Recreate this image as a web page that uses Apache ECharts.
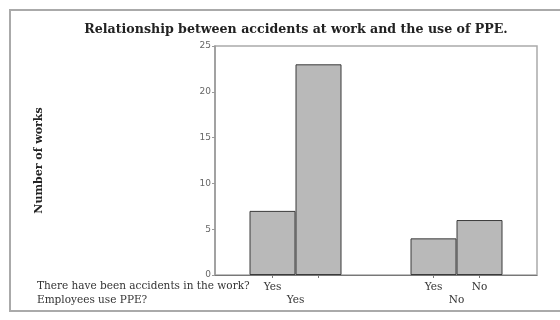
<!DOCTYPE html>
<html>
<head>
<meta charset="utf-8">
<script src="https://cdn.jsdelivr.net/npm/echarts@6/dist/echarts.min.js"></script>
<style>
html, body { margin: 0; padding: 0; background: #fff; }
#chart { width: 560px; height: 320px; }
</style>
</head>
<body>
<div id="chart"></div>
<script>
// Data
var barPos = [1, 2, 4.5, 5.5];          // bar centres on the hidden value scale
var counts = [7, 23, 4, 6];             // Number of works
var accidentLabels = ['Yes', '', 'Yes', 'No'];
var ppePos = [1.5, 5];
var ppeLabels = ['Yes', 'No'];

var serif = '"DejaVu Serif", "Liberation Serif", serif';

var chart = echarts.init(document.getElementById('chart'), '', { renderer: 'canvas' });

var barData = [];
for (var i = 0; i < barPos.length; i++) {
	barData.push([barPos[i], counts[i]]);
}

chart.setOption({
	animation: false,
	title: {
		text: 'Relationship between accidents at work and the use of PPE.',
		left: 291,
		textAlign: 'center',
		top: 18,
		textStyle: { fontFamily: serif, fontSize: 12.6, fontWeight: 'bold', color: '#222' }
	},
	grid: {
		left: 215, right: 23, top: 46, bottom: 45,
		show: true, borderColor: '#aaa', borderWidth: 1.5
	},
	xAxis: [{
		type: 'value',
		min: -0.25,
		max: 6.75,
		splitLine: { show: false },
		axisLine: { show: true, lineStyle: { color: '#777', width: 1 } },
		axisTick: { show: true, customValues: barPos, length: 3, lineStyle: { color: '#777' } },
		axisLabel: {
			customValues: barPos,
			margin: 7,
			fontFamily: serif, fontSize: 10.5, color: '#333',
			formatter: function(v) {
				var idx = barPos.indexOf(v);
				return idx >= 0 ? accidentLabels[idx] : '';
			}
		}
	}, {
		type: 'value',
		position: 'bottom',
		min: -0.25,
		max: 6.75,
		splitLine: { show: false },
		axisLine: { show: false },
		axisTick: { show: false },
		axisLabel: {
			customValues: ppePos,
			margin: 20,
			fontFamily: serif, fontSize: 10.5, color: '#333',
			formatter: function(v) {
				var idx = ppePos.indexOf(v);
				return idx >= 0 ? ppeLabels[idx] : '';
			}
		}
	}],
	yAxis: {
		type: 'value',
		min: 0,
		max: 25,
		interval: 5,
		name: 'Number of works',
		nameLocation: 'middle',
		nameGap: 170,
		nameTextStyle: { fontFamily: serif, fontSize: 11, fontWeight: 'bold', color: '#222' },
		splitLine: { show: false },
		axisLine: { show: true, onZero: false, lineStyle: { color: '#999', width: 1.5 } },
		axisTick: { show: true, length: 3, lineStyle: { color: '#999' } },
		axisLabel: { fontFamily: '"DejaVu Sans", sans-serif', fontSize: 9, color: '#666', margin: 4 }
	},
	series: [{
		type: 'bar',
		xAxisIndex: 0,
		barWidth: 46,
		data: barData,
		itemStyle: { color: '#b9b9b9', borderColor: '#3a3a3a', borderWidth: 1 }
	}],
	graphic: [{
		type: 'rect',
		shape: { x: 10, y: 10, width: 560, height: 301 },
		style: { fill: 'none', stroke: '#aaa', lineWidth: 2 },
		z: -1
	}, {
		type: 'text',
		left: 37, top: 281,
		style: { text: 'There have been accidents in the work?', font: '10.5px ' + serif, fill: '#333' }
	}, {
		type: 'text',
		left: 37, top: 295,
		style: { text: 'Employees use PPE?', font: '10.5px ' + serif, fill: '#333' }
	}]
});
</script>
</body>
</html>
